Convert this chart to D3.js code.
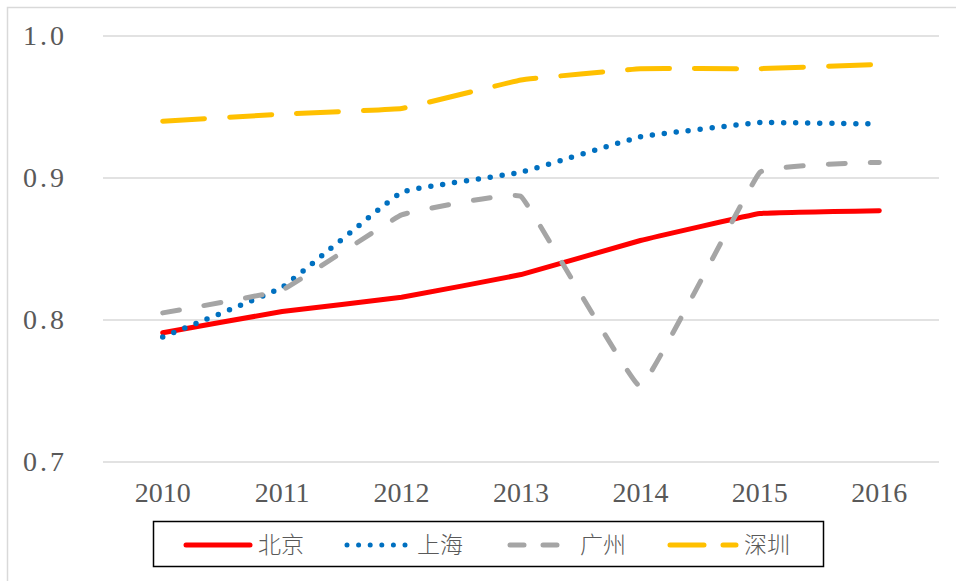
<!DOCTYPE html>
<html><head><meta charset="utf-8">
<script src="https://cdn.jsdelivr.net/npm/d3@7"></script>
<style>html,body{margin:0;padding:0;background:#fff;}svg{display:block;}</style>
</head><body>
<svg id="c" width="956" height="581"></svg>
<script>
const categories = ["2010","2011","2012","2013","2014","2015","2016"];
const beijing   = [0.791, 0.806, 0.816, 0.832, 0.856, 0.875, 0.877];
const shanghai  = [0.788, 0.823, 0.890, 0.904, 0.929, 0.939, 0.938];
const guangzhou = [0.805, 0.821, 0.874, 0.887, 0.753, 0.904, 0.911];
const shenzhen  = [0.940, 0.945, 0.949, 0.969, 0.977, 0.977, 0.980];
const seriesNames = ["北京","上海","广州","深圳"];
const yTicks = [0.7, 0.8, 0.9, 1.0];

const series = [
  {name: seriesNames[0], values: beijing,   color: "#FF0000", dash: null},
  {name: seriesNames[1], values: shanghai,  color: "#0070C0", dash: "0,12"},
  {name: seriesNames[2], values: guangzhou, color: "#A5A5A5", dash: "17,25"},
  {name: seriesNames[3], values: shenzhen,  color: "#FFC000", dash: "42,25"}
];

const svg = d3.select("#c");
svg.append("rect").attr("x",7.5).attr("y",7.5).attr("width",1000).attr("height",1000)
  .attr("fill","none").attr("stroke","#d9d9d9").attr("stroke-width",1.5);

const x = d3.scaleBand().domain(categories).range([103, 939]);
const y = d3.scaleLinear().domain([0.7, 1.0]).range([462, 36]);

// gridlines
svg.append("g").selectAll("line").data(yTicks).join("line")
  .attr("x1",103).attr("x2",939)
  .attr("y1",d=>y(d)).attr("y2",d=>y(d))
  .attr("stroke","#d9d9d9").attr("stroke-width",1.5);

// y labels
svg.append("g").selectAll("text").data(yTicks).join("text")
  .attr("x",67).attr("y",d=>y(d)+9)
  .attr("text-anchor","end")
  .attr("font-family","Liberation Serif, serif").attr("font-size",28)
  .attr("letter-spacing",3)
  .attr("fill","#595959")
  .text(d=>d3.format(".1f")(d));

// x labels
svg.append("g").selectAll("text").data(categories).join("text")
  .attr("x",d=>x(d)+x.bandwidth()/2).attr("y",502)
  .attr("text-anchor","middle")
  .attr("font-family","Liberation Serif, serif").attr("font-size",28)
  .attr("fill","#595959")
  .text(d=>d);

const line = d3.line()
  .x((d,i)=>x(categories[i])+x.bandwidth()/2)
  .y(d=>y(d))
  .curve(d3.curveCardinal.tension(0.8));

series.forEach(s=>{
  svg.append("path").datum(s.values)
    .attr("d",line)
    .attr("fill","none")
    .attr("stroke",s.color)
    .attr("stroke-width", s.dash==="0,12" ? 5.5 : 5)
    .attr("stroke-linecap","round")
    .attr("stroke-linejoin","round")
    .attr("stroke-dasharray",s.dash);
});

// legend
svg.append("rect").attr("x",153.5).attr("y",521.5).attr("width",670).attr("height",45)
  .attr("fill","none").attr("stroke","#000").attr("stroke-width",1.5);
const legX = [186, 347, 510, 670];
const legLen = [64, 62, 62, 66];
const legDash = [null, "0,11.6", "14,19", "34,19"];
series.forEach((s,i)=>{
  svg.append("line").attr("x1",legX[i]).attr("x2",legX[i]+legLen[i])
    .attr("y1",545).attr("y2",545)
    .attr("stroke",s.color).attr("stroke-width",5).attr("stroke-linecap","round")
    .attr("stroke-dasharray",legDash[i]);
  svg.append("text").attr("x",legX[i]+legLen[i]+8).attr("y",553)
    .attr("font-family","Noto Sans CJK SC, sans-serif").attr("font-size",23)
    .attr("font-weight",300)
    .attr("fill","#595959").text(s.name);
});
</script>
</body></html>
